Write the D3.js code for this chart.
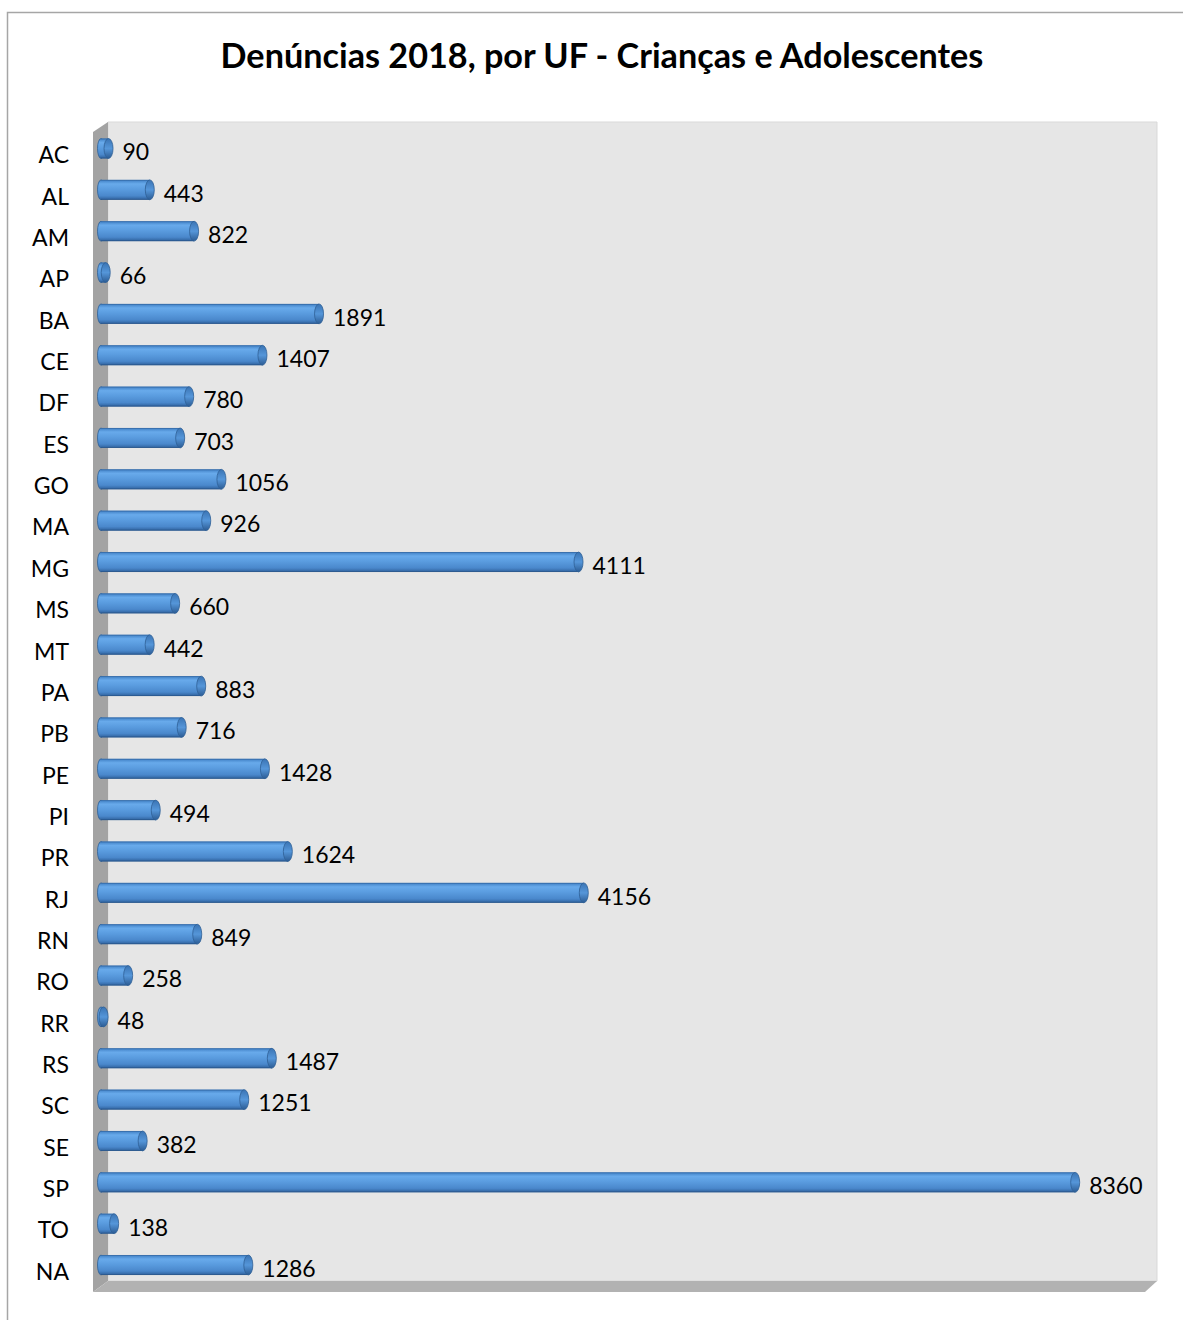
<!DOCTYPE html>
<html><head><meta charset="utf-8">
<script src="https://cdn.jsdelivr.net/npm/d3@7"></script>
<style>body{margin:0;background:#fff}svg{display:block}</style>
</head><body>
<script>
const categories = ["AC","AL","AM","AP","BA","CE","DF","ES","GO","MA","MG","MS","MT","PA","PB","PE","PI","PR","RJ","RN","RO","RR","RS","SC","SE","SP","TO","NA"];
const values = [90,443,822,66,1891,1407,780,703,1056,926,4111,660,442,883,716,1428,494,1624,4156,849,258,48,1487,1251,382,8360,138,1286];
const title = "Denúncias 2018, por UF - Crianças e Adolescentes";

(function(){
const W = 1183, H = 1320;
const svg = d3.select("body").append("svg").attr("width", W).attr("height", H);
const font = "Lato, 'Open Sans', sans-serif";

// outer frame
svg.append("rect").attr("x",7.5).attr("y",12.5).attr("width",1300).attr("height",1400)
  .attr("fill","#fff").attr("stroke","#a6a6a6").attr("stroke-width",1.5);

svg.append("text").attr("x",602).attr("y",68).attr("text-anchor","middle")
  .attr("font-family",font).attr("font-weight","bold").attr("font-size",34.2)
  .attr("fill","#000").text(title);

const x = d3.scaleLinear().domain([0,9000]).range([98,1150]);
const y = d3.scaleBand().domain(categories).range([127.8,1285.7]).paddingInner(0.52).paddingOuter(0.26);

// 3D walls
const wallL = 93, wallR = 108, wTop = 122, wBottom = 1281, floorB = 1290;
svg.append("polygon").attr("points",`${wallR},${wTop} ${1157},${wTop} ${1157},${wBottom} ${wallR},${wBottom}`)
  .attr("fill","#e6e6e6").attr("stroke","#d9d9d9");
svg.append("polygon").attr("points",`${wallL},${wTop+10} ${wallR},${wTop} ${wallR},${wBottom} ${wallL},${floorB+2}`)
  .attr("fill","#a3a3a3");
svg.append("polygon").attr("points",`${wallR},${wBottom} ${1157},${wBottom} ${1145},${floorB+2} ${wallL},${floorB+2}`)
  .attr("fill","#b2b2b2");

const defs = svg.append("defs");
const g = defs.append("linearGradient").attr("id","cyl").attr("x1",0).attr("y1",0).attr("x2",0).attr("y2",1);
[[0,"#3f7fc4"],[0.2,"#68aaeb"],[0.45,"#5b9de0"],[0.8,"#4a88cc"],[1,"#2f619c"]].forEach(([o,c])=>
  g.append("stop").attr("offset",o).attr("stop-color",c));
const gc = defs.append("linearGradient").attr("id","cap").attr("x1",0).attr("y1",0).attr("x2",0).attr("y2",1);
[[0,"#3a74b4"],[0.5,"#5596d9"],[1,"#2c5c94"]].forEach(([o,c])=>
  gc.append("stop").attr("offset",o).attr("stop-color",c));

const bh = y.bandwidth();
const rows = svg.append("g").selectAll("g").data(categories).join("g")
  .attr("transform", d => `translate(0,${y(d)})`);

rows.append("ellipse").attr("cx", x(0)+3).attr("cy", bh/2).attr("rx",3.5).attr("ry",bh/2)
  .attr("fill","url(#cyl)").attr("stroke","#2f5f96").attr("stroke-width",0.8);
rows.append("rect").attr("x", x(0)+3).attr("y",0)
  .attr("width",(d,i)=>Math.max(0,x(values[i])-x(0)-3)).attr("height",bh)
  .attr("fill","url(#cyl)");
rows.append("line").attr("x1",x(0)+3).attr("x2",(d,i)=>x(values[i])).attr("y1",0.4).attr("y2",0.4)
  .attr("stroke","#3569a6").attr("stroke-width",0.8);
rows.append("line").attr("x1",x(0)+3).attr("x2",(d,i)=>x(values[i])).attr("y1",bh-0.4).attr("y2",bh-0.4)
  .attr("stroke","#2a578c").attr("stroke-width",0.8);
rows.append("ellipse").attr("cx",(d,i)=>x(values[i])).attr("cy",bh/2).attr("rx",4.5).attr("ry",bh/2)
  .attr("fill","url(#cap)").attr("stroke","#2f5f96").attr("stroke-width",0.8);

rows.append("text").attr("x",(d,i)=>x(values[i])+14).attr("y",bh/2+6)
  .attr("dominant-baseline","middle").attr("font-family",font).attr("font-size",23)
  .attr("fill","#000").text((d,i)=>values[i]);

rows.append("text").attr("x",69).attr("y",bh/2+9).attr("text-anchor","end")
  .attr("dominant-baseline","middle").attr("font-family",font).attr("font-size",23)
  .attr("fill","#000").text(d=>d);
})();
</script>
</body></html>
